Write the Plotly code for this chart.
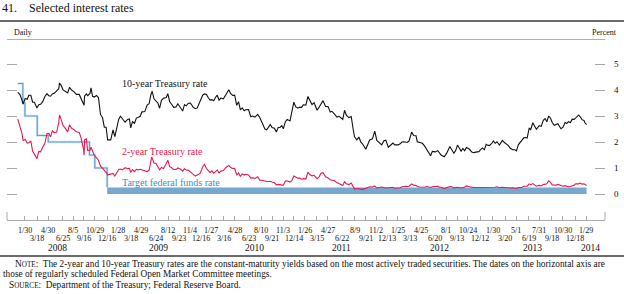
import plotly.graph_objects as go

# ---------------- data ----------------
obs_dates = (
    ["2008-" + d for d in ["01-02","01-10","01-18","01-23","01-31","02-08","02-14","02-22","02-29","03-07",
                            "03-17","03-24","03-31","04-08","04-17","04-25","05-02","05-09","05-16","05-23",
                            "06-02","06-10","06-13","06-20","06-27","07-03","07-15","07-22","07-31","08-08",
                            "08-18","08-29","09-05","09-15","09-17","09-19","09-26","10-01","10-10","10-14",
                            "10-20","10-27","11-04","11-12","11-20","11-28","12-05","12-12","12-18","12-30"]]
  + ["2009-" + d for d in ["01-08","01-15","01-23","01-30","02-06","02-13","02-24","03-06","03-13","03-18",
                            "03-25","04-02","04-09","04-17","04-24","05-01","05-12","05-21","05-29","06-05",
                            "06-08","06-10","06-17","06-25","07-02","07-09","07-16","07-24","08-04","08-10",
                            "08-17","08-24","09-02","09-11","09-18","09-29","10-07","10-14","10-21","10-29",
                            "11-06","11-16","11-25","12-03","12-14","12-24","12-31"]]
  + ["2010-" + d for d in ["01-08","01-15","01-22","01-29","02-05","02-12","02-19","02-26","03-05","03-15",
                            "03-26","04-05","04-12","04-20","04-28","05-06","05-13","05-20","05-28","06-04",
                            "06-10","06-21","06-30","07-07","07-16","07-27","08-04","08-12","08-24","08-31",
                            "09-07","09-14","09-21","09-30","10-08","10-15","10-22","10-29","11-04","11-12",
                            "11-19","11-30","12-07","12-15","12-22","12-31"]]
  + ["2011-" + d for d in ["01-07","01-14","01-21","01-31","02-08","02-15","02-24","03-04","03-16","03-23",
                            "03-31","04-08","04-18","04-28","05-06","05-13","05-23","06-01","06-10","06-17",
                            "06-24","07-01","07-08","07-18","07-27","08-04","08-09","08-18","08-26","09-02",
                            "09-09","09-22","09-30","10-07","10-18","10-27","11-04","11-10","11-23","12-02",
                            "12-09","12-19","12-30"]]
  + ["2012-" + d for d in ["01-06","01-13","01-27","02-03","02-10","02-17","02-24","03-02","03-09","03-19",
                            "03-27","04-05","04-10","04-20","04-30","05-09","05-18","06-01","06-08","06-19",
                            "06-29","07-06","07-12","07-24","08-03","08-15","08-23","08-31","09-07","09-14",
                            "09-21","09-28","10-05","10-12","10-19","10-31","11-09","11-16","11-30","12-07",
                            "12-14","12-21","12-28"]]
  + ["2013-" + d for d in ["01-04","01-11","01-18","01-28","02-01","02-08","02-15","02-25","03-08","03-15",
                            "03-22","04-01","04-08","04-18","04-26","05-02","05-10","05-22","05-31","06-07",
                            "06-13","06-21","06-27","07-05","07-12","07-19","07-30","08-07","08-15","08-22",
                            "08-29","09-05","09-12","09-19","09-27","10-04","10-11","10-23","10-31","11-08",
                            "11-15","11-21","11-29","12-06","12-13","12-20","12-31"]]
  + ["2014-" + d for d in ["01-07","01-13","01-21","01-24","01-31"]]
)

ten_year = [
    3.91,3.83,3.63,3.46,3.67,3.64,3.80,3.80,3.53,3.53,3.31,3.43,3.45,3.54,3.75,3.86,3.78,3.76,3.85,3.87,
    3.97,4.05,4.27,4.17,4.00,3.97,3.89,4.10,3.99,3.94,3.83,3.83,3.67,3.47,3.41,3.77,3.85,3.78,3.87,4.08,
    3.76,3.73,3.79,3.71,3.06,2.93,2.57,2.57,2.08,2.08,
    2.47,2.21,2.62,2.87,2.99,2.89,2.76,2.87,2.89,2.54,2.78,2.72,2.92,2.95,2.99,3.16,3.17,3.42,3.47,3.83,
    3.90,3.95,3.66,3.59,3.50,3.30,3.60,3.68,3.71,3.86,3.56,3.46,3.33,3.35,3.47,3.31,3.19,3.44,3.39,3.49,
    3.50,3.35,3.28,3.31,3.56,3.80,3.85,
    3.83,3.70,3.61,3.63,3.59,3.71,3.80,3.61,3.69,3.66,3.86,4.01,3.87,3.79,3.80,3.41,3.55,3.25,3.31,3.20,
    3.24,3.25,2.97,3.00,2.96,3.06,2.94,2.75,2.50,2.47,2.59,2.67,2.56,2.53,2.39,2.56,2.56,2.63,2.51,2.78,
    2.87,2.81,3.15,3.53,3.36,3.30,
    3.34,3.33,3.43,3.42,3.75,3.62,3.44,3.51,3.22,3.33,3.47,3.59,3.37,3.36,3.15,3.18,3.07,2.96,2.99,2.94,
    2.87,3.22,3.03,2.94,2.98,2.47,2.20,2.08,2.19,2.00,1.93,1.72,1.92,2.08,2.12,2.42,2.06,2.00,1.89,2.05,
    2.07,1.80,1.89,
    1.96,1.89,1.89,1.93,2.00,2.01,1.98,1.98,2.04,2.38,2.25,2.24,2.01,1.97,1.95,1.84,1.71,1.47,1.64,1.62,
    1.67,1.55,1.50,1.43,1.57,1.83,1.69,1.57,1.67,1.88,1.77,1.65,1.75,1.66,1.79,1.72,1.61,1.59,1.62,1.63,
    1.72,1.77,1.70,
    1.91,1.87,1.87,1.97,2.04,1.95,2.01,1.88,2.06,1.99,1.93,1.86,1.76,1.70,1.70,1.66,1.90,2.04,2.16,2.17,
    2.15,2.53,2.48,2.74,2.59,2.49,2.63,2.60,2.83,2.90,2.78,3.00,2.92,2.75,2.64,2.66,2.70,2.51,2.57,2.75,
    2.71,2.78,2.75,2.88,2.87,2.93,3.04,
    2.96,2.86,2.83,2.75,2.67,
]

two_year = [
    2.88,2.63,2.35,2.06,2.10,1.96,1.97,2.03,1.65,1.53,1.36,1.64,1.62,1.79,1.95,2.32,2.33,2.20,2.43,2.36,
    2.38,2.75,3.04,2.85,2.63,2.56,2.39,2.66,2.52,2.48,2.39,2.37,2.17,1.71,1.49,2.08,2.12,1.67,1.68,1.80,
    1.62,1.48,1.40,1.30,1.08,1.00,0.92,0.83,0.74,0.76,
    0.79,0.69,0.85,0.94,0.96,0.93,1.01,0.97,0.99,0.83,0.94,0.86,0.95,0.93,0.95,0.92,0.87,0.86,0.92,1.32,
    1.42,1.38,1.19,1.17,1.06,0.93,1.02,0.98,1.17,1.30,1.05,1.02,0.94,0.94,1.00,0.95,0.88,0.97,0.92,0.91,
    0.85,0.76,0.69,0.73,0.79,1.04,1.14,
    0.98,0.88,0.82,0.89,0.80,0.86,0.92,0.81,0.88,0.90,1.03,1.10,1.02,0.98,0.99,0.73,0.81,0.68,0.77,0.73,
    0.76,0.73,0.61,0.63,0.60,0.66,0.53,0.53,0.49,0.48,0.48,0.49,0.46,0.43,0.35,0.36,0.37,0.34,0.34,0.50,
    0.51,0.46,0.51,0.69,0.65,0.61,
    0.61,0.57,0.59,0.58,0.84,0.75,0.70,0.72,0.59,0.65,0.80,0.82,0.66,0.62,0.55,0.54,0.51,0.44,0.39,0.38,
    0.33,0.47,0.39,0.36,0.42,0.28,0.19,0.21,0.20,0.20,0.18,0.22,0.25,0.28,0.27,0.31,0.23,0.24,0.27,0.25,
    0.23,0.24,0.25,
    0.26,0.22,0.22,0.24,0.28,0.30,0.30,0.29,0.30,0.39,0.34,0.33,0.29,0.27,0.25,0.26,0.29,0.25,0.28,0.30,
    0.30,0.26,0.26,0.21,0.24,0.29,0.28,0.23,0.25,0.26,0.24,0.23,0.24,0.27,0.31,0.28,0.26,0.25,0.25,0.25,
    0.25,0.27,0.25,
    0.27,0.25,0.25,0.27,0.26,0.26,0.28,0.24,0.26,0.25,0.25,0.24,0.23,0.24,0.21,0.21,0.25,0.25,0.30,0.30,
    0.30,0.39,0.36,0.40,0.34,0.30,0.33,0.31,0.36,0.39,0.39,0.51,0.45,0.35,0.33,0.34,0.37,0.31,0.30,0.32,
    0.29,0.28,0.29,0.31,0.34,0.39,0.39,
    0.42,0.38,0.39,0.38,0.33,
]

ff_step_dates = ["2008-01-02","2008-01-22","2008-01-30","2008-03-18","2008-04-30","2008-10-08","2008-10-29","2008-12-16"]
ff_step_values = [4.25, 3.50, 3.00, 2.25, 2.00, 1.50, 1.00, 0.25]
ff_band_dates = ["2008-12-16", "2014-01-31"]
ff_band_low = [0.0, 0.0]
ff_band_high = [0.25, 0.25]

fomc_dates = [
    "2008-01-30","2008-03-18","2008-04-30","2008-06-25","2008-08-05","2008-09-16","2008-10-29","2008-12-16",
    "2009-01-28","2009-03-18","2009-04-29","2009-06-24","2009-08-12","2009-09-23","2009-11-04","2009-12-16",
    "2010-01-27","2010-03-16","2010-04-28","2010-06-23","2010-08-10","2010-09-21","2010-11-03","2010-12-14",
    "2011-01-26","2011-03-15","2011-04-27","2011-06-22","2011-08-09","2011-09-21","2011-11-02","2011-12-13",
    "2012-01-25","2012-03-13","2012-04-25","2012-06-20","2012-08-01","2012-09-13","2012-10-24","2012-12-12",
    "2013-01-30","2013-03-20","2013-05-01","2013-06-19","2013-07-31","2013-09-18","2013-10-30","2013-12-18",
    "2014-01-29",
]
fomc_labels = [
    "1/30","3/18","4/30","6/25","8/5","9/16","10/29","12/16",
    "1/28","3/18","4/29","6/24","8/12","9/23","11/4","12/16",
    "1/27","3/16","4/28","6/23","8/10","9/21","11/3","12/14",
    "1/26","3/15","4/27","6/22","8/9","9/21","11/2","12/13",
    "1/25","3/13","4/25","6/20","8/1","9/13","10/24","12/12",
    "1/30","3/20","5/1","6/19","7/31","9/18","10/30","12/18",
    "1/29",
]
year_labels = ["2008", "2009", "2010", "2011", "2012", "2013", "2014"]
year_label_dates = ["2008-06-07", "2009-07-03", "2010-07-13", "2011-06-21", "2012-07-04", "2013-07-02", "2014-02-17"]
y_ticks = [0, 1, 2, 3, 4, 5]

assert len(obs_dates) == len(ten_year) == len(two_year)

# ---------------- layout geometry ----------------
W, H = 624, 294
PL, PR, PT, PB = 7, 605, 51, 220  # plot area in pixels
SERIF = "Liberation Serif, Times New Roman, serif"
RED = "#e5194d"
BLUE_LINE = "#5b9dd2"
BLUE_FILL = "#76a8d0"
BLUE_TEXT = "#3f8dc5"
GRAY = "#a8a8a8"


def px(xp):
    return (xp - PL) / (PR - PL)


def py(yp):
    return (PB - yp) / (PB - PT)


fig = go.Figure()

# Target federal funds rate band (0 - 0.25)
fig.add_trace(go.Scatter(x=ff_band_dates, y=ff_band_low, mode="lines",
                         line=dict(width=0, color=BLUE_FILL), hoverinfo="skip", showlegend=False))
fig.add_trace(go.Scatter(x=ff_band_dates, y=ff_band_high, mode="lines", fill="tonexty",
                         fillcolor=BLUE_FILL, line=dict(width=1, color="#b6d3ea"),
                         hoverinfo="skip", showlegend=False))
# Target federal funds rate steps
fig.add_trace(go.Scatter(x=ff_step_dates, y=ff_step_values, mode="lines", line_shape="hv",
                         line=dict(width=2.6, color="#cfe3f2"), hoverinfo="skip", showlegend=False))
fig.add_trace(go.Scatter(x=ff_step_dates, y=ff_step_values, mode="lines", line_shape="hv",
                         line=dict(width=1.1, color=BLUE_LINE), showlegend=False))
# 2-year
fig.add_trace(go.Scatter(x=obs_dates, y=two_year, mode="lines",
                         line=dict(width=1.1, color=RED), showlegend=False))
# 10-year
fig.add_trace(go.Scatter(x=obs_dates, y=ten_year, mode="lines",
                         line=dict(width=1.1, color="#111111"), showlegend=False))
# invisible trace for left-side tick axis
fig.add_trace(go.Scatter(x=[obs_dates[0]], y=[0], yaxis="y2", mode="markers",
                         marker=dict(opacity=0), hoverinfo="skip", showlegend=False))

annotations = []
# series labels
annotations.append(dict(x=px(120), y=py(83), xref="paper", yref="paper", text="10-year Treasury rate",
                        showarrow=False, xanchor="left", yanchor="middle",
                        font=dict(family=SERIF, size=10, color="#111111")))
annotations.append(dict(x=px(120), y=py(151), xref="paper", yref="paper", text="2-year Treasury rate",
                        showarrow=False, xanchor="left", yanchor="middle",
                        font=dict(family=SERIF, size=10, color=RED)))
annotations.append(dict(x=px(120), y=py(182), xref="paper", yref="paper", text="Target federal funds rate",
                        showarrow=False, xanchor="left", yanchor="middle",
                        font=dict(family=SERIF, size=10, color=BLUE_TEXT)))

# date tick labels in two staggered rows
for i, (d, lab) in enumerate(zip(fomc_dates, fomc_labels)):
    row_y = 230 if i % 2 == 0 else 238
    annotations.append(dict(x=d, xref="x", y=py(row_y), yref="paper", text=lab, showarrow=False,
                            xanchor="center", yanchor="middle",
                            font=dict(family=SERIF, size=8, color="#111111")))
for d, lab in zip(year_label_dates, year_labels):
    annotations.append(dict(x=d, xref="x", y=py(247.5), yref="paper", text=lab, showarrow=False,
                            xanchor="center", yanchor="middle",
                            font=dict(family=SERIF, size=9.5, color="#111111")))

# header / footer text
annotations.append(dict(x=px(0), y=py(8), xref="paper", yref="paper",
                        text="41.&#160;&#160;&#160;&#160;Selected interest rates", showarrow=False,
                        xanchor="left", yanchor="middle", font=dict(family=SERIF, size=12, color="#111111")))
annotations.append(dict(x=px(12), y=py(32), xref="paper", yref="paper", text="Daily", showarrow=False,
                        xanchor="left", yanchor="middle", font=dict(family=SERIF, size=8, color="#111111")))
annotations.append(dict(x=px(619), y=py(32), xref="paper", yref="paper", text="Percent", showarrow=False,
                        xanchor="right", yanchor="middle", font=dict(family=SERIF, size=8, color="#111111")))
note1 = ("N<span style='font-size:7.2px'>OTE</span>:  The 2-year and 10-year Treasury rates are the constant-maturity "
         "yields based on the most actively traded securities. The dates on the horizontal axis are")
note2 = "those of regularly scheduled Federal Open Market Committee meetings."
note3 = "S<span style='font-size:7.2px'>OURCE</span>:  Department of the Treasury; Federal Reserve Board."
for xp, yp, t in [(13, 263.5, note1), (1, 274, note2), (7, 285, note3)]:
    annotations.append(dict(x=px(xp), y=py(yp), xref="paper", yref="paper", text=t, showarrow=False,
                            xanchor="left", yanchor="middle", font=dict(family=SERIF, size=9.3, color="#111111")))

shapes = [
    # dark rules
    dict(type="line", xref="paper", yref="paper", x0=px(0), x1=px(624), y0=py(21), y1=py(21),
         line=dict(color="#3a3a3a", width=1.5)),
    dict(type="line", xref="paper", yref="paper", x0=px(0), x1=px(624), y0=py(256), y1=py(256),
         line=dict(color="#3a3a3a", width=1.5)),
    # light rule under Daily/Percent
    dict(type="line", xref="paper", yref="paper", x0=px(7), x1=px(605), y0=py(39.5), y1=py(39.5),
         line=dict(color="#b0b0b0", width=1)),
    # taller end ticks of the date axis
    dict(type="line", xref="paper", yref="paper", x0=0, x1=0, y0=0, y1=py(212),
         line=dict(color=GRAY, width=1)),
    dict(type="line", xref="paper", yref="paper", x0=1, x1=1, y0=0, y1=py(212),
         line=dict(color=GRAY, width=1)),
]

fig.update_layout(
    width=W, height=H,
    margin=dict(l=PL, r=W - PR, t=PT, b=H - PB, autoexpand=False),
    paper_bgcolor="white", plot_bgcolor="white",
    showlegend=False,
    font=dict(family=SERIF, color="#111111"),
    annotations=annotations,
    shapes=shapes,
    xaxis=dict(type="date", range=["2007-11-21", "2014-04-13"], showgrid=False, zeroline=False,
               showline=True, linecolor=GRAY, linewidth=1,
               tickmode="array", tickvals=fomc_dates, ticktext=[""] * len(fomc_dates),
               ticks="inside", ticklen=4, tickcolor=GRAY, tickwidth=1, showticklabels=False),
    yaxis=dict(range=[-1, 5.5], side="right", showgrid=False, zeroline=False, showline=False,
               tickmode="array", tickvals=y_ticks, ticks="inside", ticklen=10, tickcolor=GRAY,
               tickwidth=1, ticklabelstandoff=8,
               tickfont=dict(family=SERIF, size=9, color="#111111")),
    yaxis2=dict(range=[-1, 5.5], side="left", overlaying="y", showgrid=False, zeroline=False,
                showline=False, tickmode="array", tickvals=y_ticks, ticks="inside", ticklen=10,
                tickcolor=GRAY, tickwidth=1, showticklabels=False),
)

fig.write_html("out.html")
